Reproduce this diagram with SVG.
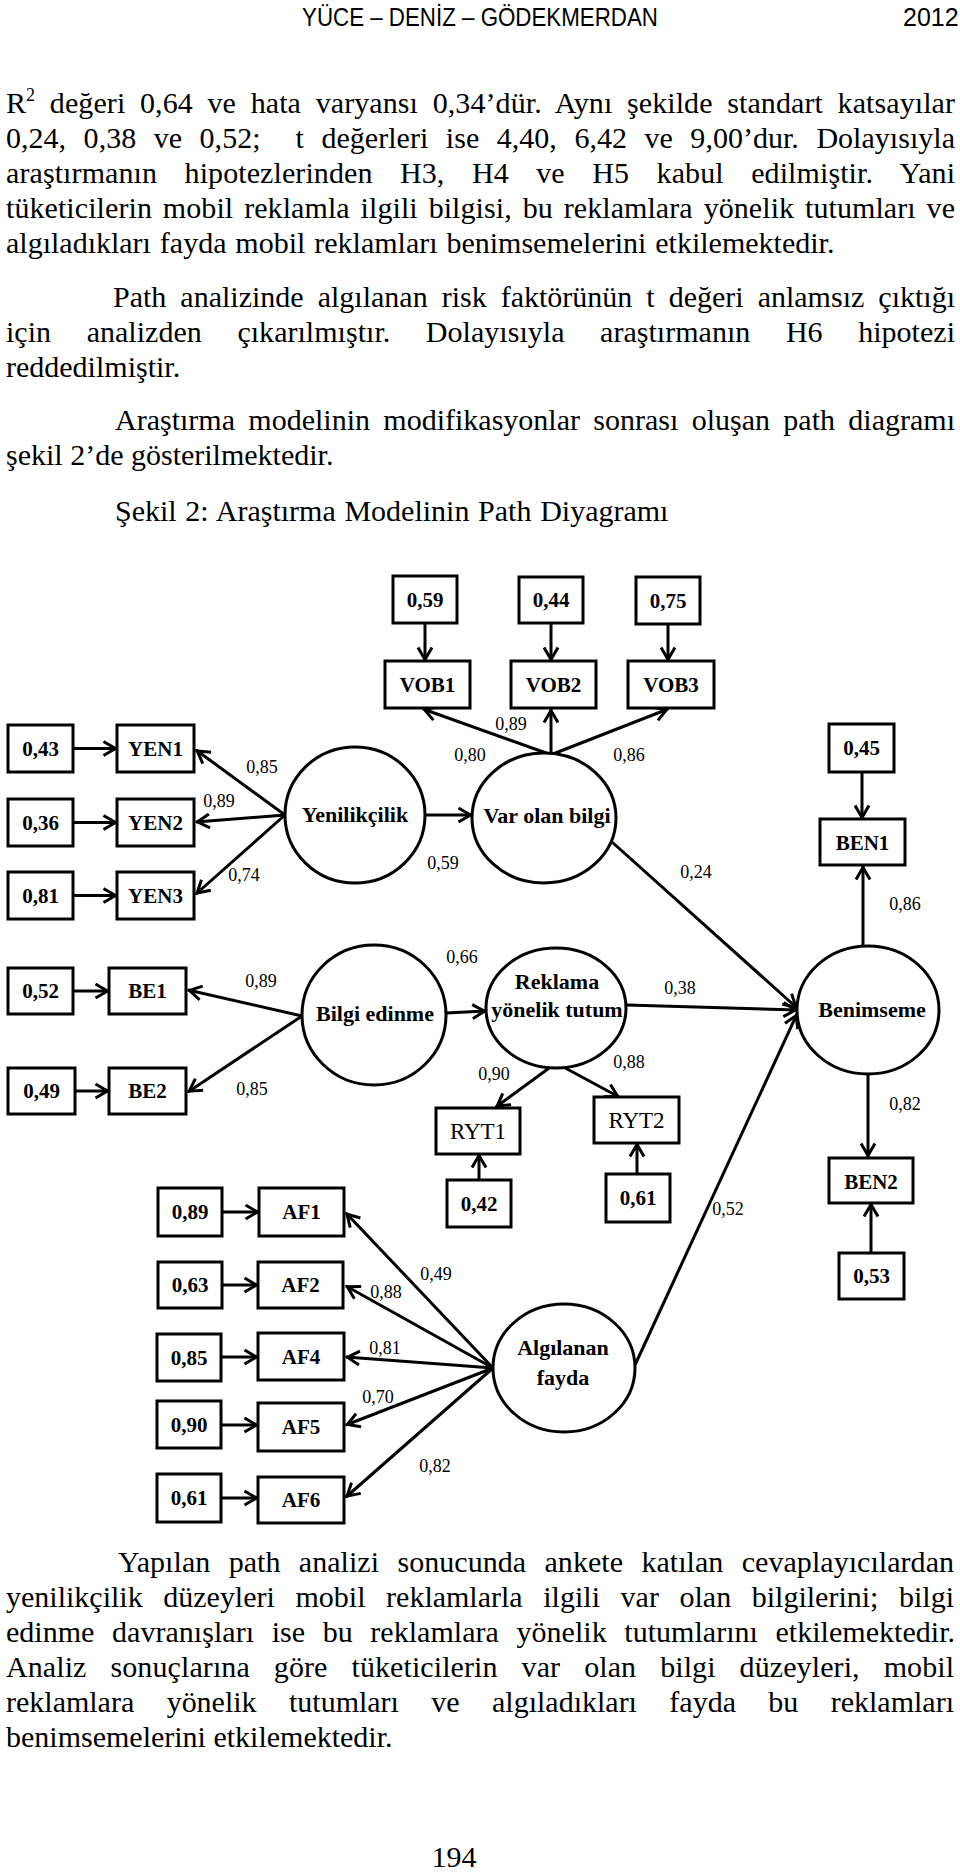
<svg xmlns="http://www.w3.org/2000/svg" width="960" height="1873" viewBox="0 0 960 1873">
<style>
.body{font-family:"Liberation Serif","Times New Roman",serif;font-size:30px;fill:#000}
.hdr{font-family:"Liberation Sans",Arial,sans-serif;font-size:25px;fill:#000}
.box{fill:#fff;stroke:#000;stroke-width:3}
.lat{fill:#fff;stroke:#000;stroke-width:3}
.lbl{font-family:"Liberation Serif","Times New Roman",serif;font-size:21px;font-weight:bold;text-anchor:middle;fill:#000}
.lblr{font-family:"Liberation Serif","Times New Roman",serif;font-size:23px;text-anchor:middle;fill:#000}
.latt{font-family:"Liberation Serif","Times New Roman",serif;font-size:22px;font-weight:bold;text-anchor:middle;fill:#000}
.coef{font-family:"Liberation Serif","Times New Roman",serif;font-size:18px;text-anchor:middle;fill:#000}
.con line{stroke:#000;stroke-width:3;marker-end:url(#ah)}
</style>
<defs>
<marker id="ah" markerUnits="userSpaceOnUse" viewBox="-16 -10 20 20" markerWidth="20" markerHeight="20" refX="0" refY="0" orient="auto">
<path d="M-13.5,-7 L-1.5,0 L-13.5,7" fill="none" stroke="#000" stroke-width="3"/>
</marker>
</defs>
<rect x="0" y="0" width="960" height="1873" fill="#fff"/>

<g id="header">
<text class="hdr" x="302" y="26" textLength="356" lengthAdjust="spacingAndGlyphs">YÜCE – DENİZ – GÖDEKMERDAN</text>
<text class="hdr" x="903" y="26" font-size="23">2012</text>
</g>

<g id="text-top">
<text class="body" x="6" y="113" word-spacing="7.1" textLength="949" lengthAdjust="spacing">R<tspan font-size="18" dy="-12">2</tspan><tspan dy="12"> değeri 0,64 ve hata varyansı 0,34’dür. Aynı şekilde standart katsayılar</tspan></text>
<text class="body" x="6" y="148" word-spacing="10" textLength="949" lengthAdjust="spacing">0,24, 0,38 ve 0,52; &#160;t değerleri ise 4,40, 6,42 ve 9,00’dur. Dolayısıyla</text>
<text class="body" x="6" y="183" word-spacing="19.9" textLength="949" lengthAdjust="spacing">araştırmanın hipotezlerinden H3, H4 ve H5 kabul edilmiştir. Yani</text>
<text class="body" x="6" y="218" word-spacing="3.3" textLength="949" lengthAdjust="spacing">tüketicilerin mobil reklamla ilgili bilgisi, bu reklamlara yönelik tutumları ve</text>
<text class="body" x="6" y="253" word-spacing="1.4">algıladıkları fayda mobil reklamları benimsemelerini etkilemektedir.</text>
<text class="body" x="113" y="307" word-spacing="6.5" textLength="842" lengthAdjust="spacing">Path analizinde algılanan risk faktörünün t değeri anlamsız çıktığı</text>
<text class="body" x="6" y="342" word-spacing="28" textLength="949" lengthAdjust="spacing">için analizden çıkarılmıştır. Dolayısıyla araştırmanın H6 hipotezi</text>
<text class="body" x="6" y="377">reddedilmiştir.</text>
<text class="body" x="115" y="430" word-spacing="5.8" textLength="840" lengthAdjust="spacing">Araştırma modelinin modifikasyonlar sonrası oluşan path diagramı</text>
<text class="body" x="6" y="465">şekil 2’de gösterilmektedir.</text>
<text class="body" x="115" y="521" word-spacing="1.2">Şekil 2: Araştırma Modelinin Path Diyagramı</text>
</g>

<g class="con" id="connectors">
<line x1="73" y1="748.5" x2="117" y2="748.5"/>
<line x1="73" y1="822.5" x2="117" y2="822.5"/>
<line x1="73" y1="895.5" x2="117" y2="895.5"/>
<line x1="73" y1="991" x2="109" y2="991"/>
<line x1="75" y1="1091" x2="109" y2="1091"/>
<line x1="222" y1="1212" x2="259" y2="1212"/>
<line x1="222" y1="1285" x2="258" y2="1285"/>
<line x1="221" y1="1357" x2="258" y2="1357"/>
<line x1="221" y1="1425" x2="258" y2="1425"/>
<line x1="221" y1="1498" x2="258" y2="1498"/>
<line x1="425" y1="623" x2="425" y2="661"/>
<line x1="551" y1="623" x2="551" y2="661"/>
<line x1="668" y1="624" x2="668" y2="661"/>
<line x1="862" y1="772" x2="862" y2="819"/>
<line x1="871" y1="1253" x2="871" y2="1203"/>
<line x1="479" y1="1180" x2="479" y2="1154"/>
<line x1="637" y1="1174" x2="637" y2="1143"/>

<line x1="285" y1="815" x2="196" y2="750"/>
<line x1="285" y1="815" x2="196" y2="822"/>
<line x1="285" y1="815" x2="196" y2="894"/>
<line x1="549" y1="754" x2="423" y2="709"/>
<line x1="551" y1="754" x2="551" y2="709"/>
<line x1="553" y1="754" x2="668" y2="709"/>
<line x1="302" y1="1016" x2="188" y2="990"/>
<line x1="302" y1="1016" x2="188" y2="1092"/>
<line x1="556" y1="1063" x2="496" y2="1107"/>
<line x1="556" y1="1063" x2="619" y2="1097"/>
<line x1="493" y1="1368" x2="346" y2="1213"/>
<line x1="493" y1="1368" x2="346" y2="1286"/>
<line x1="493" y1="1368" x2="346" y2="1357"/>
<line x1="493" y1="1368" x2="346" y2="1425"/>
<line x1="493" y1="1368" x2="346" y2="1497"/>
<line x1="863" y1="946" x2="863" y2="866"/>
<line x1="868" y1="1074" x2="868" y2="1157"/>

<line x1="426" y1="815" x2="472" y2="815"/>
<line x1="446" y1="1013" x2="486" y2="1011"/>
<line x1="612" y1="842" x2="797" y2="1008"/>
<line x1="627" y1="1005" x2="797" y2="1010"/>
<line x1="635" y1="1365" x2="797" y2="1014"/>
</g>

<g id="YEN1e"><rect class="box" x="8" y="725" width="65" height="47"/><text class="lbl" x="40.5" y="756">0,43</text></g>
<g id="YEN1"><rect class="box" x="117" y="725" width="77" height="47"/><text class="lbl" x="155.5" y="756">YEN1</text></g>
<g id="YEN2e"><rect class="box" x="8" y="799" width="65" height="47"/><text class="lbl" x="40.5" y="830">0,36</text></g>
<g id="YEN2"><rect class="box" x="117" y="799" width="77" height="47"/><text class="lbl" x="155.5" y="830">YEN2</text></g>
<g id="YEN3e"><rect class="box" x="8" y="872" width="65" height="47"/><text class="lbl" x="40.5" y="903">0,81</text></g>
<g id="YEN3"><rect class="box" x="117" y="872" width="77" height="47"/><text class="lbl" x="155.5" y="903">YEN3</text></g>
<g id="BE1e"><rect class="box" x="8" y="968" width="65" height="46"/><text class="lbl" x="40.5" y="998">0,52</text></g>
<g id="BE1"><rect class="box" x="109" y="968" width="77" height="46"/><text class="lbl" x="147.5" y="998">BE1</text></g>
<g id="BE2e"><rect class="box" x="8" y="1068" width="67" height="46"/><text class="lbl" x="41.5" y="1098">0,49</text></g>
<g id="BE2"><rect class="box" x="109" y="1068" width="77" height="46"/><text class="lbl" x="147.5" y="1098">BE2</text></g>

<g id="VOB1e"><rect class="box" x="393" y="576" width="64" height="47"/><text class="lbl" x="425" y="607">0,59</text></g>
<g id="VOB1"><rect class="box" x="385" y="661" width="85" height="47"/><text class="lbl" x="427.5" y="692">VOB1</text></g>
<g id="VOB2e"><rect class="box" x="519" y="577" width="64" height="46"/><text class="lbl" x="551" y="607">0,44</text></g>
<g id="VOB2"><rect class="box" x="511" y="661" width="85" height="47"/><text class="lbl" x="553.5" y="692">VOB2</text></g>
<g id="VOB3e"><rect class="box" x="636" y="577" width="64" height="47"/><text class="lbl" x="668" y="608">0,75</text></g>
<g id="VOB3"><rect class="box" x="628" y="661" width="86" height="47"/><text class="lbl" x="671" y="692">VOB3</text></g>

<g id="BEN1e"><rect class="box" x="829" y="724" width="65" height="48"/><text class="lbl" x="861.5" y="755">0,45</text></g>
<g id="BEN1"><rect class="box" x="820" y="819" width="85" height="46"/><text class="lbl" x="862.5" y="850" font-size="24">BEN1</text></g>
<g id="BEN2"><rect class="box" x="829" y="1158" width="84" height="45"/><text class="lbl" x="871" y="1189" font-size="24">BEN2</text></g>
<g id="BEN2e"><rect class="box" x="839" y="1253" width="65" height="46"/><text class="lbl" x="871.5" y="1283">0,53</text></g>

<g id="RYT1"><rect class="box" x="436" y="1108" width="84" height="46"/><text class="lblr" x="478" y="1139">RYT1</text></g>
<g id="RYT1e"><rect class="box" x="447" y="1180" width="64" height="47"/><text class="lbl" x="479" y="1211">0,42</text></g>
<g id="RYT2"><rect class="box" x="594" y="1097" width="85" height="46"/><text class="lblr" x="636.5" y="1128">RYT2</text></g>
<g id="RYT2e"><rect class="box" x="606" y="1174" width="64" height="48"/><text class="lbl" x="638" y="1205">0,61</text></g>

<g id="AF1e"><rect class="box" x="158" y="1188" width="64" height="48"/><text class="lbl" x="190" y="1219">0,89</text></g>
<g id="AF1"><rect class="box" x="259" y="1188" width="85" height="48"/><text class="lbl" x="301.5" y="1219">AF1</text></g>
<g id="AF2e"><rect class="box" x="158" y="1262" width="64" height="46"/><text class="lbl" x="190" y="1292">0,63</text></g>
<g id="AF2"><rect class="box" x="258" y="1262" width="85" height="46"/><text class="lbl" x="300.5" y="1292">AF2</text></g>
<g id="AF4e"><rect class="box" x="157" y="1334" width="64" height="47"/><text class="lbl" x="189" y="1365">0,85</text></g>
<g id="AF4"><rect class="box" x="258" y="1333" width="86" height="47"/><text class="lbl" x="301" y="1364">AF4</text></g>
<g id="AF5e"><rect class="box" x="157" y="1401" width="64" height="47"/><text class="lbl" x="189" y="1432">0,90</text></g>
<g id="AF5"><rect class="box" x="258" y="1403" width="86" height="48"/><text class="lbl" x="301" y="1434">AF5</text></g>
<g id="AF6e"><rect class="box" x="157" y="1474" width="64" height="48"/><text class="lbl" x="189" y="1505">0,61</text></g>
<g id="AF6"><rect class="box" x="258" y="1477" width="86" height="46"/><text class="lbl" x="301" y="1507">AF6</text></g>

<g id="Yenilikcilik"><ellipse class="lat" cx="355" cy="815" rx="70" ry="68"/><text class="latt" x="355" y="822">Yenilikçilik</text></g>
<g id="VarOlanBilgi"><ellipse class="lat" cx="544" cy="818" rx="72" ry="65"/><text class="latt" x="547" y="823">Var olan bilgi</text></g>
<g id="BilgiEdinme"><ellipse class="lat" cx="374" cy="1015" rx="72" ry="70"/><text class="latt" x="375" y="1021">Bilgi edinme</text></g>
<g id="ReklamaYonelikTutum"><ellipse class="lat" cx="556" cy="1008" rx="70" ry="60"/><text class="latt" x="557" y="989" font-size="20">Reklama</text><text class="latt" x="557" y="1017" font-size="20">yönelik tutum</text></g>
<g id="Benimseme"><ellipse class="lat" cx="868" cy="1010" rx="71" ry="64"/><text class="latt" x="872" y="1017">Benimseme</text></g>
<g id="AlgilananFayda"><ellipse class="lat" cx="564" cy="1368" rx="71" ry="64"/><text class="latt" x="563" y="1355" font-size="21">Algılanan</text><text class="latt" x="563" y="1385" font-size="21">fayda</text></g>

<g id="coefficients">
<text class="coef" x="262" y="773">0,85</text>
<text class="coef" x="219" y="807">0,89</text>
<text class="coef" x="244" y="881">0,74</text>
<text class="coef" x="443" y="869">0,59</text>
<text class="coef" x="470" y="761">0,80</text>
<text class="coef" x="511" y="730">0,89</text>
<text class="coef" x="629" y="761">0,86</text>
<text class="coef" x="696" y="878">0,24</text>
<text class="coef" x="905" y="910">0,86</text>
<text class="coef" x="261" y="987">0,89</text>
<text class="coef" x="252" y="1095">0,85</text>
<text class="coef" x="462" y="963">0,66</text>
<text class="coef" x="680" y="994">0,38</text>
<text class="coef" x="494" y="1080">0,90</text>
<text class="coef" x="629" y="1068">0,88</text>
<text class="coef" x="905" y="1110">0,82</text>
<text class="coef" x="728" y="1215">0,52</text>
<text class="coef" x="436" y="1280">0,49</text>
<text class="coef" x="386" y="1298">0,88</text>
<text class="coef" x="385" y="1354">0,81</text>
<text class="coef" x="378" y="1403">0,70</text>
<text class="coef" x="435" y="1472">0,82</text>
</g>

<g id="text-bottom">
<text class="body" x="118" y="1572" word-spacing="10.8" textLength="836" lengthAdjust="spacing">Yapılan path analizi sonucunda ankete katılan cevaplayıcılardan</text>
<text class="body" x="6" y="1607" word-spacing="13.1" textLength="948" lengthAdjust="spacing">yenilikçilik düzeyleri mobil reklamlarla ilgili var olan bilgilerini; bilgi</text>
<text class="body" x="6" y="1642" word-spacing="10.1" textLength="949" lengthAdjust="spacing">edinme davranışları ise bu reklamlara yönelik tutumlarını etkilemektedir.</text>
<text class="body" x="6" y="1677" word-spacing="16.4" textLength="948" lengthAdjust="spacing">Analiz sonuçlarına göre tüketicilerin var olan bilgi düzeyleri, mobil</text>
<text class="body" x="6" y="1712" word-spacing="24.9" textLength="948" lengthAdjust="spacing">reklamlara yönelik tutumları ve algıladıkları fayda bu reklamları</text>
<text class="body" x="6" y="1747">benimsemelerini etkilemektedir.</text>
<text class="body" x="454" y="1867" text-anchor="middle">194</text>
</g>
</svg>
